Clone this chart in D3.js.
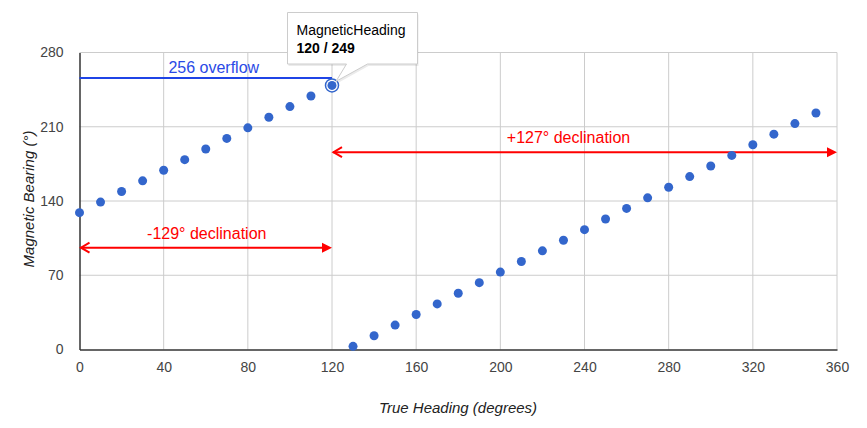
<!DOCTYPE html>
<html><head><meta charset="utf-8">
<script src="https://cdn.jsdelivr.net/npm/d3@7"></script>
<style>body{margin:0;background:#fff}svg{display:block;font-family:Arial,"Liberation Sans",sans-serif}</style>
</head><body><svg id="c" width="867" height="428"></svg>
<script>
const trueHeading = [0,10,20,30,40,50,60,70,80,90,100,110,120,130,140,150,160,170,180,190,200,210,220,230,240,250,260,270,280,290,300,310,320,330,340,350];
const magneticHeading = [129,139,149,159,169,179,189,199,209,219,229,239,249,3,13,23,33,43,53,63,73,83,93,103,113,123,133,143,153,163,173,183,193,203,213,223];
const xTicks = [0,40,80,120,160,200,240,280,320,360];
const yTicks = [0,70,140,210,280];
const overflowLine = {value:256, from:0, to:120, label:"256 overflow"};
const arrows = [
  {y:96, from:0, to:120, label:"-129° declination"},
  {y:186, from:120, to:360, label:"+127° declination"}
];
const highlight = {x:120, y:249, title:"MagneticHeading"};

const svg = d3.select("#c");
const x = d3.scaleLinear().domain([0,360]).range([79.5,837]);
const y = d3.scaleLinear().domain([0,280]).range([349.5,52.5]);
const FF = "Arial,'Liberation Sans',sans-serif";
const labelShift = [1, -16];

// grid
svg.append("g").selectAll("line").data(xTicks.slice(1)).join("line")
  .attr("x1",d=>x(d)).attr("x2",d=>x(d)).attr("y1",y(0)).attr("y2",y(280))
  .attr("stroke","#cccccc").attr("stroke-width",1);
svg.append("g").selectAll("line").data(yTicks.slice(1)).join("line")
  .attr("x1",x(0)).attr("x2",x(360)).attr("y1",d=>y(d)).attr("y2",d=>y(d))
  .attr("stroke","#cccccc").attr("stroke-width",1);

// axes
const xa = svg.append("g").attr("transform",`translate(0,${y(0)})`)
  .call(d3.axisBottom(x).tickValues(xTicks).tickSize(0).tickPadding(13));
xa.select(".domain").attr("stroke","#333").attr("stroke-width",1.5);
xa.selectAll("text").attr("font-size",14).attr("fill","#444").attr("font-family",FF);
const ya = svg.append("g").attr("transform",`translate(${x(0)},0)`)
  .call(d3.axisLeft(y).tickValues(yTicks).tickSize(0).tickPadding(16));
ya.select(".domain").attr("stroke","#333").attr("stroke-width",1.5);
ya.selectAll("text").attr("font-size",14).attr("fill","#444").attr("font-family",FF);

// titles
svg.append("text").attr("x",458).attr("y",413).attr("text-anchor","middle")
  .attr("font-size",15).attr("font-style","italic").attr("fill","#222").text("True Heading (degrees)");
svg.append("text").attr("transform",`translate(34,${y(140)-2}) rotate(-90)`).attr("text-anchor","middle")
  .attr("font-size",15).attr("font-style","italic").attr("fill","#222").text("Magnetic Bearing (°)");

// overflow line
svg.append("line").attr("x1",x(overflowLine.from)).attr("x2",x(overflowLine.to))
  .attr("y1",y(overflowLine.value)).attr("y2",y(overflowLine.value))
  .attr("stroke","#1f44e6").attr("stroke-width",2);
svg.append("text").attr("x",(x(overflowLine.from)+x(overflowLine.to))/2+8).attr("y",y(overflowLine.value)-5)
  .attr("text-anchor","middle").attr("font-size",16).attr("fill","#2a4ae6").text(overflowLine.label);

// arrows
const ag = svg.append("g");
arrows.forEach((a,i)=>{
  const x1=x(a.from), x2=x(a.to), yy=y(a.y);
  ag.append("line").attr("x1",x1+1).attr("x2",x2-6).attr("y1",yy).attr("y2",yy)
    .attr("stroke","#ff0000").attr("stroke-width",2);
  ag.append("path").attr("d",`M${x1+10},${yy-5} L${x1+1.5},${yy} L${x1+10},${yy+5}`)
    .attr("fill","none").attr("stroke","#ff0000").attr("stroke-width",2);
  ag.append("path").attr("d",`M${x2-10},${yy-5} L${x2},${yy} L${x2-10},${yy+5} Z`)
    .attr("fill","#ff0000");
  ag.append("text").attr("x",(x1+x2)/2+labelShift[i]).attr("y",yy-9).attr("text-anchor","middle")
    .attr("font-size",16).attr("fill","#ff0000").text(a.label);
});

// points
const pts = trueHeading.map((t,i)=>({t, m:magneticHeading[i]}));
svg.append("g").selectAll("circle").data(pts).join("circle")
  .attr("cx",d=>x(d.t)).attr("cy",d=>y(d.m)).attr("r",4.5).attr("fill","#3366cc");

// highlighted point
const hx=x(highlight.x), hy=y(highlight.y);
svg.append("circle").attr("cx",hx).attr("cy",hy).attr("r",6.5).attr("fill","#fff").attr("stroke","#3366cc").attr("stroke-width",1.5);
svg.append("circle").attr("cx",hx).attr("cy",hy).attr("r",4.5).attr("fill","#3366cc");

// tooltip
const tg = svg.append("g");
const bx=287.5, by=12.5, bw=130, bh=51.5;
const tail = `M${bx},${by} H${bx+bw} V${by+bh} H${bx+80} L${hx+4},${hy-4} L${bx+59},${by+bh} H${bx} Z`;
tg.append("path").attr("d",tail).attr("fill","#000").attr("opacity",0.08).attr("transform","translate(1,2)");
tg.append("path").attr("d",tail).attr("fill","#fff").attr("stroke","#cccccc").attr("stroke-width",1);
tg.append("text").attr("x",bx+9).attr("y",by+22).attr("font-size",14).attr("fill","#000").text(highlight.title);
tg.append("text").attr("x",bx+9).attr("y",by+40).attr("font-size",14).attr("font-weight","bold").attr("fill","#000")
  .text(`${highlight.x} / ${highlight.y}`);
</script></body></html>
